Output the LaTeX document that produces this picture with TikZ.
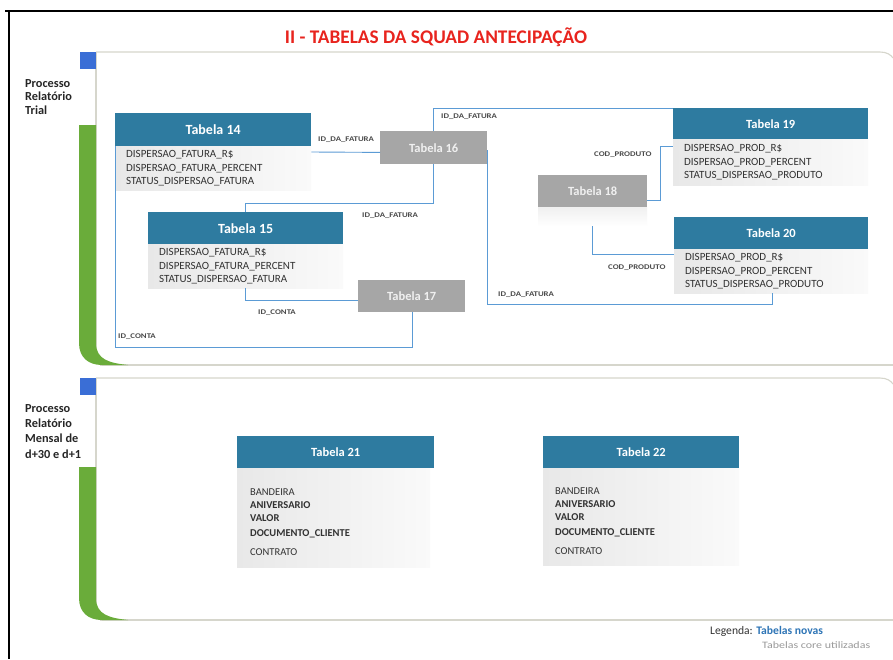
\documentclass[tikz,border=0pt]{standalone}
\usepackage{fontspec}
\setmainfont{Carlito}
\newfontfamily\lblfont[FakeStretch=1.22]{Carlito}
\usetikzlibrary{calc}

\definecolor{hdrblue}{RGB}{46,123,160}
\definecolor{coregray}{RGB}{166,166,166}
\definecolor{linkblue}{RGB}{91,155,213}
\definecolor{barGreen}{RGB}{106,172,58}
\definecolor{tabBlue}{RGB}{58,110,214}
\definecolor{titlered}{RGB}{232,36,30}
\definecolor{panelline}{RGB}{214,214,204}
\definecolor{fieldtxt}{RGB}{50,50,50}
\definecolor{lbltxt}{RGB}{75,75,75}
\definecolor{legblue}{RGB}{46,117,182}

\tikzset{
  hdr/.style={anchor=north west, inner sep=0pt, fill=hdrblue, text=white,
    font=\bfseries\fontsize{12.5}{14}\selectfont},
  bighdr/.style={hdr, font=\bfseries\fontsize{14}{16}\selectfont},
  core/.style={anchor=north west, inner sep=0pt, fill=coregray, text=white!94!black,
    font=\bfseries\fontsize{12.5}{14}\selectfont},
  tablebody/.style={anchor=north west, inner xsep=11pt, inner ysep=0pt,
    left color=black!9, right color=black!2, align=left, text=fieldtxt,
    font=\fontsize{11}{13.5}\selectfont},
  fields/.style={anchor=north west, inner sep=0pt, align=left, text=fieldtxt,
    font=\fontsize{10.5}{13}\selectfont},
  link/.style={draw=linkblue, line width=0.9pt},
  linklabel/.style={anchor=west, inner sep=0pt, text=lbltxt,
    font=\lblfont\bfseries\fontsize{7.2}{8}\selectfont},
  sidelabel/.style={anchor=north west, inner sep=0pt, align=left, text=black!85,
    font=\bfseries\fontsize{12.3}{13.7}\selectfont},
  panel/.style={draw=panelline, line width=1.1pt},
  bar/.style={fill=barGreen},
  tab/.style={fill=tabBlue},
}

\begin{document}
\begin{tikzpicture}[x=1pt,y=-1pt]
\useasboundingbox (0,0) rectangle (893,659);
\fill[white] (0,0) rectangle (893,659);

% outer frame
\draw[line width=1.3pt] (5,11) -- (893,11);
\draw[line width=1.3pt] (9,11) -- (9,659);

% title
\node[text=titlered, font=\bfseries\fontsize{19.3}{21}\selectfont] (title) at (436,37)
  {II - TABELAS DA SQUAD ANTECIPAÇÃO};

% ---------- panel 1 ----------
\draw[panel] (96,52) -- (880,52) .. controls (887,52) and (891,55) .. (893,58);
\draw[panel] (96,52) -- (96,360);
\draw[panel] (100,365) -- (893,365);
\fill[bar] (79,125) -- (79,343) .. controls (79,357) and (88,365) .. (102,365)
  -- (128,365) .. controls (110,363) and (96,360) .. (96,343) -- (96,125) -- cycle;
\fill[tab] (80,52) rectangle (96,69);
\node[sidelabel] (lbl1) at (25,79) {Processo\\Relatório\\Trial};

% ---------- panel 2 ----------
\draw[panel] (96,378) -- (880,378) .. controls (887,378) and (891,381) .. (893,384);
\draw[panel] (96,378) -- (96,615);
\draw[panel] (100,620) -- (893,620);
\fill[bar] (79,467) -- (79,598) .. controls (79,612) and (88,620) .. (102,620)
  -- (128,620) .. controls (110,618) and (96,615) .. (96,598) -- (96,467) -- cycle;
\fill[tab] (80,378) rectangle (96,395);
\node[sidelabel, font=\bfseries\fontsize{12.3}{15.3}\selectfont] (lbl2) at (25,404)
  {Processo\\Relatório\\Mensal de\\d+30 e d+1};

% ---------- tables of panel 1 ----------
\node[bighdr, minimum width=196pt, minimum height=33pt] (t14h) at (115,113) {Tabela 14};
\node[tablebody, text width=174pt, minimum height=44pt] (t14b) at (115,146)
  {DISPERSAO\_FATURA\_R\$\\DISPERSAO\_FATURA\_PERCENT\\STATUS\_DISPERSAO\_FATURA};

\node[bighdr, minimum width=195pt, minimum height=32pt] (t15h) at (148,212) {Tabela 15};
\node[tablebody, text width=173pt, minimum height=44pt] (t15b) at (148,244)
  {DISPERSAO\_FATURA\_R\$\\DISPERSAO\_FATURA\_PERCENT\\STATUS\_DISPERSAO\_FATURA};

\node[core, minimum width=107pt, minimum height=33pt] (t16) at (380,131) {Tabela 16};
\node[core, minimum width=107pt, minimum height=32pt] (t17) at (358,280) {Tabela 17};
\node[core, minimum width=109pt, minimum height=32pt] (t18) at (538,175) {Tabela 18};
\node[anchor=north west, inner sep=0pt, top color=black!6, bottom color=white,
  minimum width=109pt, minimum height=19pt] (t18s) at (538,207) {};

\node[hdr, minimum width=195pt, minimum height=31pt] (t19h) at (673,108) {Tabela 19};
\node[tablebody, text width=173pt, minimum height=46pt] (t19b) at (673,139)
  {DISPERSAO\_PROD\_R\$\\DISPERSAO\_PROD\_PERCENT\\STATUS\_DISPERSAO\_PRODUTO};

\node[hdr, minimum width=194pt, minimum height=32pt] (t20h) at (674,217) {Tabela 20};
\node[tablebody, text width=172pt, minimum height=44pt] (t20b) at (674,249)
  {DISPERSAO\_PROD\_R\$\\DISPERSAO\_PROD\_PERCENT\\STATUS\_DISPERSAO\_PRODUTO};

% ---------- relations ----------
\draw[link] ($(t14b.north east)+(0,6)$) -- ($(t16.south west)+(0,-12)$);
\draw[link] ($(t16.north west)+(53,0)$) |- (t19h.north west);
\draw[link] ($(t16.south west)+(53,0)$) -- ++(0,39) -| ($(t15h.north west)+(97,0)$);
\draw[link] ($(t16.north east)+(0,19)$) -- ($(t16.north east |- t20b.south)+(0,11)$)
  -| ($(t20b.south west)+(98,0)$);
\draw[link] ($(t18.south east)+(0,-7)$) -- ++(13,0) |- ($(t19b.north west)+(0,7)$);
\draw[link] (t18s.south) |- ($(t20b.north west)+(0,5)$);
\draw[link] ($(t15b.south west)+(97,0)$) |- ($(t17.north west)+(0,20)$);
\draw[link] (t14b.north west) -- ++(0,201) -| ($(t17.south west)+(54,0)$);

\node[linklabel] (l1) at (318,140) {ID\_DA\_FATURA};
\node[linklabel] (l2) at (441,117) {ID\_DA\_FATURA};
\node[linklabel] (l3) at (362,216) {ID\_DA\_FATURA};
\node[linklabel] (l4) at (498,295) {ID\_DA\_FATURA};
\node[linklabel] (l5) at (594,155) {COD\_PRODUTO};
\node[linklabel] (l6) at (608,268) {COD\_PRODUTO};
\node[linklabel] (l7) at (258,313) {ID\_CONTA};
\node[linklabel] (l8) at (118,337) {ID\_CONTA};

% ---------- tables of panel 2 ----------
\node[hdr, minimum width=197pt, minimum height=32pt] (t21h) at (237,436) {Tabela 21};
\node[tablebody, minimum width=193pt, minimum height=99pt] (t21b) at (237,468) {};
\node[fields] (t21f) at (250,489)
  {BANDEIRA\\\textbf{ANIVERSARIO}\\\textbf{VALOR}\\[2pt]\textbf{DOCUMENTO\_CLIENTE}\\[6pt]CONTRATO};

\node[hdr, minimum width=196pt, minimum height=32pt] (t22h) at (543,436) {Tabela 22};
\node[tablebody, minimum width=196pt, minimum height=97pt] (t22b) at (543,468) {};
\node[fields] (t22f) at (555,488)
  {BANDEIRA\\\textbf{ANIVERSARIO}\\\textbf{VALOR}\\[2pt]\textbf{DOCUMENTO\_CLIENTE}\\[6pt]CONTRATO};

% ---------- legend ----------
\node[anchor=west, inner sep=0pt, font=\fontsize{11.6}{13}\selectfont] (leg1) at (710,631)
  {\textcolor{black!80}{Legenda:} \textcolor{legblue}{\textbf{Tabelas novas}}};
\node[anchor=west, inner sep=0pt, text=black!40, font=\lblfont\fontsize{9.8}{11}\selectfont]
  (leg2) at (762,645) {Tabelas core utilizadas};
\end{tikzpicture}
\end{document}
